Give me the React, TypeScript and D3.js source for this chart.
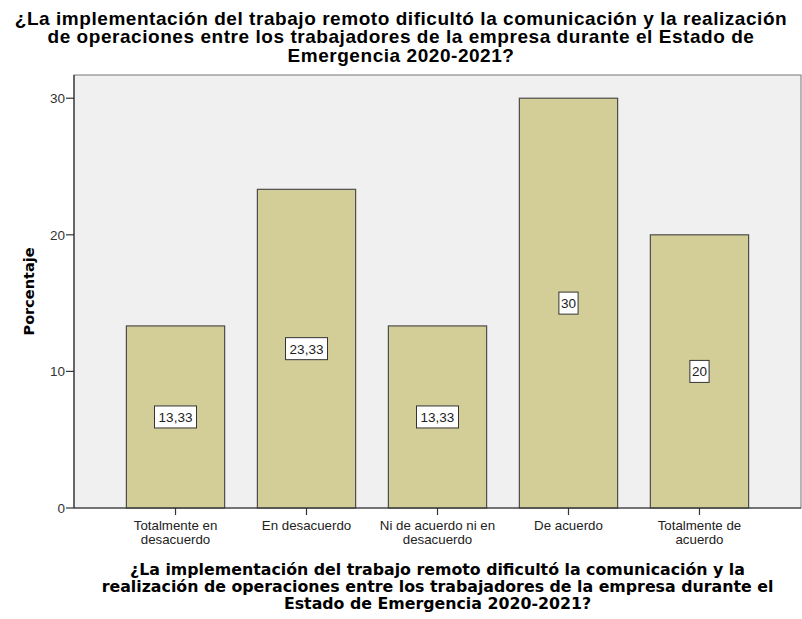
import React from "react";
import * as d3 from "d3";

const categories = [
  ["Totalmente en", "desacuerdo"],
  ["En desacuerdo"],
  ["Ni de acuerdo ni en", "desacuerdo"],
  ["De acuerdo"],
  ["Totalmente de", "acuerdo"],
];
const percentages = [13.33, 23.33, 13.33, 30, 20];
const valueLabels = ["13,33", "23,33", "13,33", "30", "20"];
const yTicks = [0, 10, 20, 30];

const titleLines = [
  "¿La implementación del trabajo remoto dificultó la comunicación y la realización",
  "de operaciones entre los trabajadores de la empresa durante el Estado de",
  "Emergencia 2020-2021?",
];
const xTitleLines = [
  "¿La implementación del trabajo remoto dificultó la comunicación y la",
  "realización de operaciones entre los trabajadores de la empresa durante el",
  "Estado de Emergencia 2020-2021?",
];

const W = 802;
const H = 619;
const plot = { left: 74, right: 801, top: 75, bottom: 508 };

const App = () => {
  const keys = categories.map((c) => c.join(" "));
  const x = d3
    .scaleBand()
    .domain(keys)
    .range([plot.left, plot.right])
    .paddingInner(0.25)
    .paddingOuter(0.4);
  const y = d3.scaleLinear().domain([0, 31.7]).range([plot.bottom, plot.top]);

  const arial = "Arial, 'Liberation Sans', sans-serif";
  const dejavu = "'DejaVu Sans', Verdana, sans-serif";

  return (
    <svg
      width={W}
      height={H}
      style={{ position: "absolute", left: 0, top: 0, background: "#fff" }}
    >
      {/* title */}
      {titleLines.map((t, i) => (
        <text
          key={i}
          x={401}
          y={24.5 + i * 18.5}
          textAnchor="middle"
          fontFamily={arial}
          fontWeight="bold"
          fontSize={19}
          letterSpacing={0.55}
          fill="#000"
        >
          {t}
        </text>
      ))}

      {/* plot background */}
      <rect
        x={plot.left}
        y={plot.top}
        width={plot.right - plot.left}
        height={plot.bottom - plot.top}
        fill="#f0f0f0"
        stroke="#777"
        strokeWidth={1}
      />

      {/* bars */}
      {percentages.map((v, i) => (
        <rect
          key={i}
          x={x(keys[i])!}
          y={y(v)}
          width={x.bandwidth()}
          height={y(0) - y(v)}
          fill="#d3ce97"
          stroke="#4d4d4d"
          strokeWidth={1.2}
        />
      ))}

      {/* value labels */}
      {percentages.map((v, i) => {
        const cx = x(keys[i])! + x.bandwidth() / 2;
        const cy = y(v / 2);
        const w = valueLabels[i].length * 7.6 + 4;
        return (
          <g key={i}>
            <rect
              x={cx - w / 2}
              y={cy - 11}
              width={w}
              height={22}
              fill="#fff"
              stroke="#333"
              strokeWidth={1}
            />
            <text
              x={cx}
              y={cy + 5}
              textAnchor="middle"
              fontFamily={arial}
              fontSize={13.5}
              fill="#222"
            >
              {valueLabels[i]}
            </text>
          </g>
        );
      })}

      {/* y axis */}
      <line
        x1={plot.left}
        x2={plot.left}
        y1={plot.top}
        y2={plot.bottom}
        stroke="#333"
        strokeWidth={1.2}
      />
      {yTicks.map((t) => (
        <g key={t}>
          <line
            x1={plot.left - 8}
            x2={plot.left}
            y1={y(t)}
            y2={y(t)}
            stroke="#333"
            strokeWidth={1.2}
          />
          <text
            x={plot.left - 9}
            y={y(t) + 5}
            textAnchor="end"
            fontFamily={arial}
            fontSize={13.5}
            fill="#333"
          >
            {t}
          </text>
        </g>
      ))}
      <text
        transform={`translate(34, ${(plot.top + plot.bottom) / 2}) rotate(-90)`}
        textAnchor="middle"
        fontFamily={dejavu}
        fontWeight="bold"
        fontSize={14.5}
        fill="#000"
      >
        Porcentaje
      </text>

      {/* x axis */}
      <line
        x1={plot.left}
        x2={plot.right}
        y1={plot.bottom}
        y2={plot.bottom}
        stroke="#333"
        strokeWidth={1.2}
      />
      {categories.map((lines, i) => {
        const cx = x(keys[i])! + x.bandwidth() / 2;
        return (
          <g key={i}>
            <line
              x1={cx}
              x2={cx}
              y1={plot.bottom}
              y2={plot.bottom + 7}
              stroke="#333"
              strokeWidth={1.2}
            />
            {lines.map((l, j) => (
              <text
                key={j}
                x={cx}
                y={plot.bottom + 22 + j * 13.5}
                textAnchor="middle"
                fontFamily={arial}
                fontSize={13.3}
                fill="#222"
              >
                {l}
              </text>
            ))}
          </g>
        );
      })}
      {xTitleLines.map((t, i) => (
        <text
          key={i}
          x={(plot.left + plot.right) / 2}
          y={575 + i * 17}
          textAnchor="middle"
          fontFamily={dejavu}
          fontWeight="bold"
          fontSize={15.8}
          fill="#000"
        >
          {t}
        </text>
      ))}
    </svg>
  );
};

export default App;
